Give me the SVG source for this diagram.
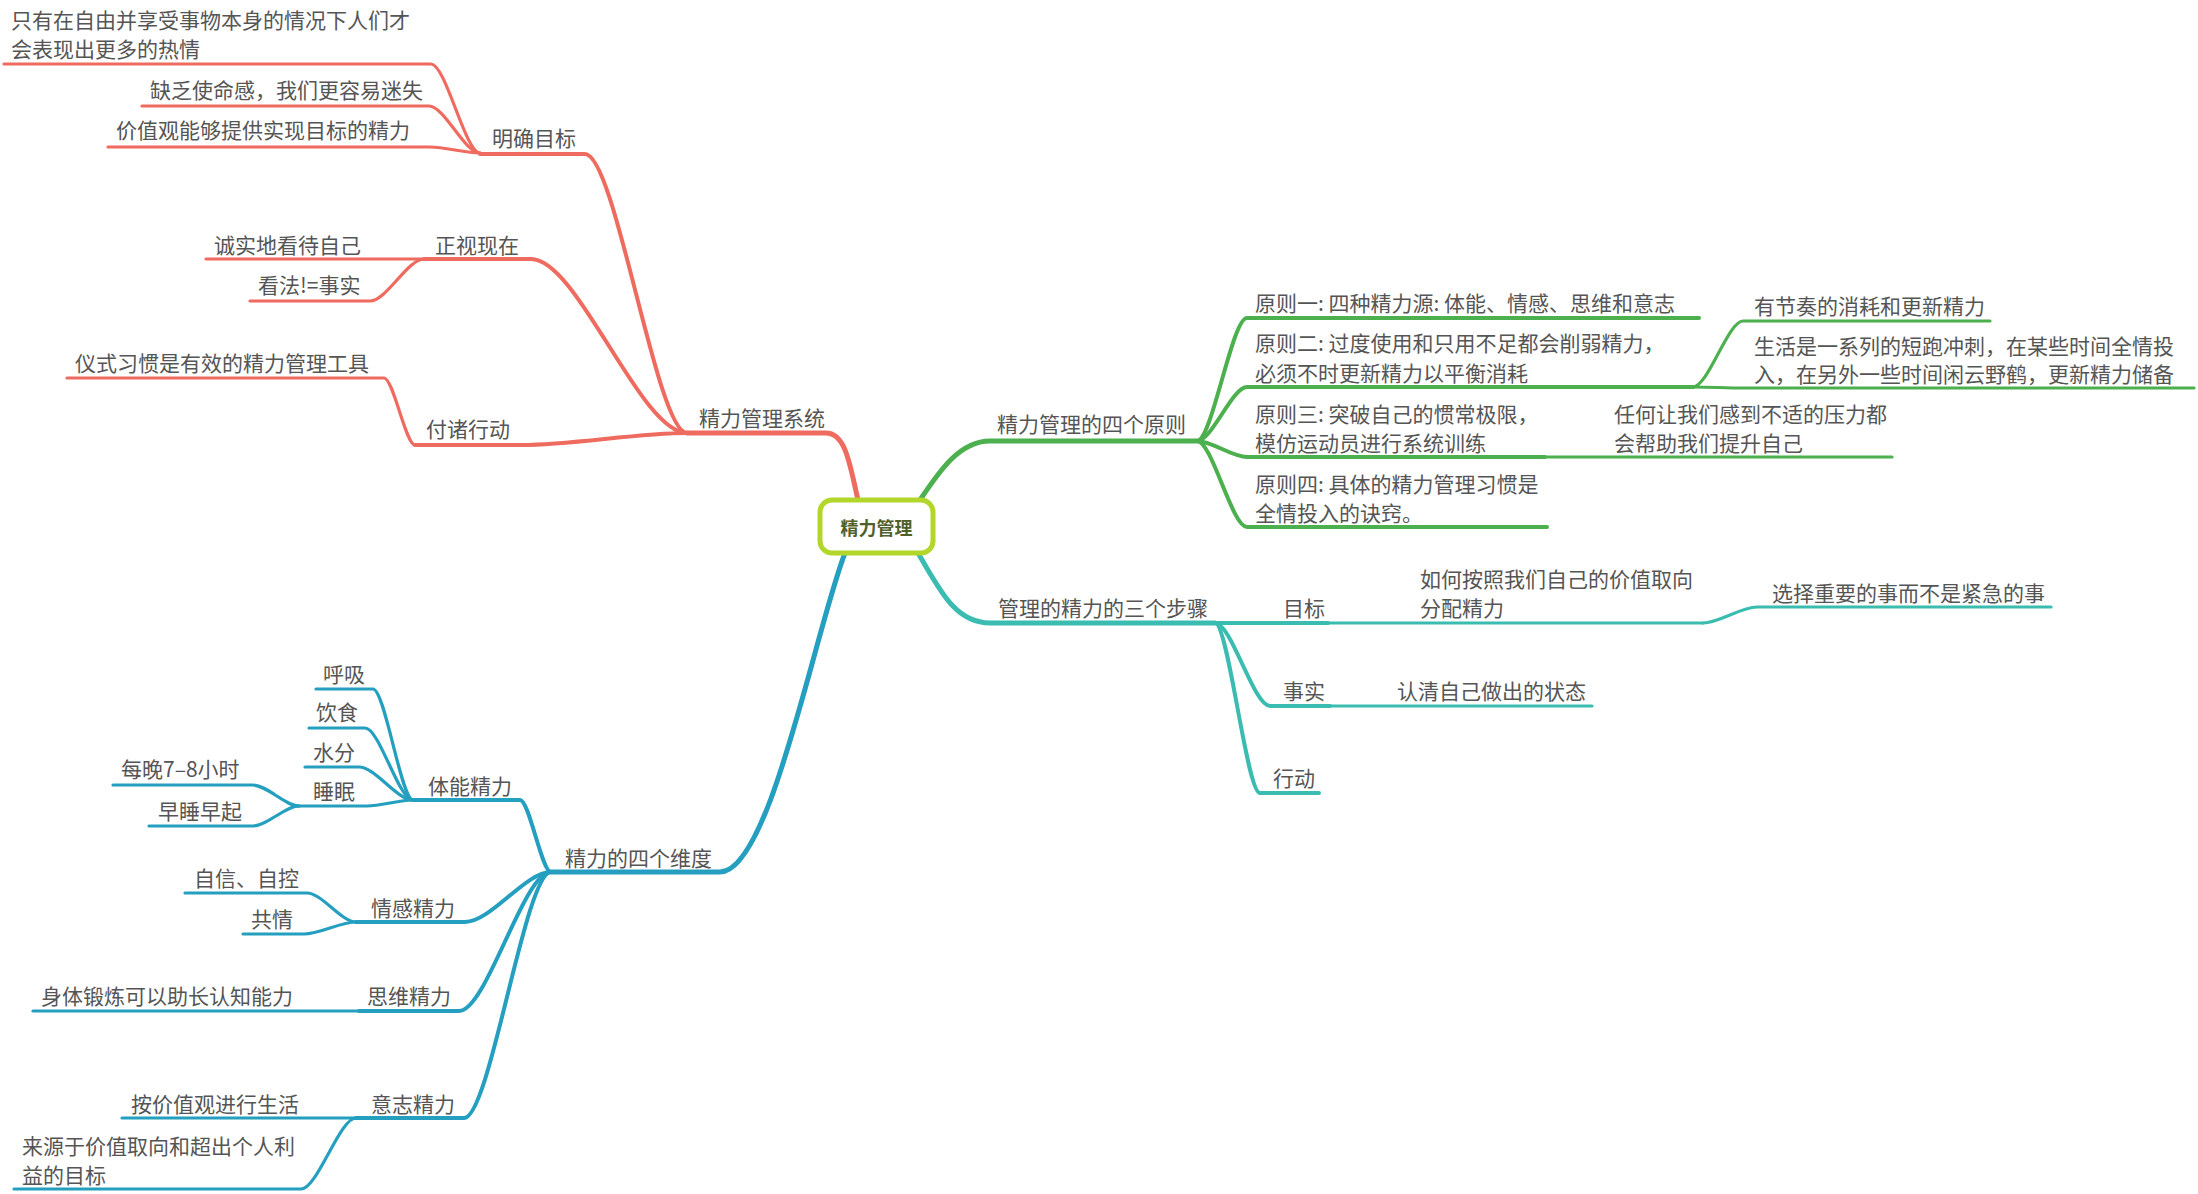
<svg xmlns="http://www.w3.org/2000/svg" width="2198" height="1194" viewBox="0 0 2198 1194">
<style>
text{font-family:"Noto Sans CJK SC","Noto Sans",sans-serif;font-size:21px;fill:#555}
.c path{fill:none;stroke-linecap:round;stroke-linejoin:round}
.r{stroke:#ef6b5f}.g{stroke:#4cb04e}.t{stroke:#3abcb0}.b{stroke:#249fc0}
.w5{stroke-width:5}.w4{stroke-width:4}.w3{stroke-width:3.2}
.root rect{fill:#fff;stroke:#b3d62a;stroke-width:5}
.root text{font-size:18px;font-weight:bold;fill:#4f6129}
</style>
<rect width="2198" height="1194" fill="#fff"/>
<g class="c" id="connectors">
<path class="r w5" d="M858 500 C850 466 846 433 826 433 L687 433"/>
<path class="r w4" d="M687 433 C656.4 433 615.6 154 585 154 L480 154"/>
<path class="r w4" d="M687 433 C640.2 433 577.8 259 531 259 L424 259"/>
<path class="r w4" d="M687 433 C637.5 433 571.5 445 522 445 L415 445"/>
<path class="r w3" d="M480 153 C465.3 153 445.7 64 431 64 L4 64"/>
<path class="r w3" d="M480 153 C464.7 153 444.3 106 429 106 L142 106"/>
<path class="r w3" d="M480 153 C465 153 445 147 430 147 L108 147"/>
<path class="r w3" d="M424 259 L206 259"/>
<path class="r w3" d="M424 259 C407.8 259 386.2 301 370 301 L250 301"/>
<path class="r w3" d="M415 445 C405.7 445 393.3 378 384 378 L67 378"/>
<path class="b w5" d="M845 553 C815 630 770 872 720 872 L551 872"/>
<path class="b w4" d="M551 872 C541.7 872 529.3 800 520 800 L413 800"/>
<path class="b w4" d="M551 872 C525.2 872 490.8 922 465 922 L356 922"/>
<path class="b w4" d="M551 872 C523.4 872 486.6 1011 459 1011 L359 1011"/>
<path class="b w4" d="M551 872 C524.9 872 490.1 1118 464 1118 L356 1118"/>
<path class="b w3" d="M413 800 C401 800 385 689 373 689 L316 689"/>
<path class="b w3" d="M413 800 C398.6 800 379.4 728 365 728 L309 728"/>
<path class="b w3" d="M413 800 C396.8 800 375.2 767 359 767 L305 767"/>
<path class="b w3" d="M413 800 C399.2 800 380.8 806 367 806 L299 806"/>
<path class="b w3" d="M299 806 C285.2 806 266.8 785 253 785 L113 785"/>
<path class="b w3" d="M299 806 C285.2 806 266.8 826 253 826 L149 826"/>
<path class="b w3" d="M356 922 C341.3 922 321.7 893 307 893 L185 893"/>
<path class="b w3" d="M356 922 C340.4 922 319.6 934 304 934 L243 934"/>
<path class="b w3" d="M359 1011 L33 1011"/>
<path class="b w3" d="M356 1118 L122 1118"/>
<path class="b w3" d="M356 1118 C339.5 1118 317.5 1189 301 1189 L14 1189"/>
<path class="g w5" d="M920 500 C940 470 960 441 990 441 L1197 441"/>
<path class="g w4" d="M1197 441 C1212 441 1232 318 1247 318 L1699 318"/>
<path class="g w4" d="M1197 441 C1212 441 1232 387 1247 387 L1693 387"/>
<path class="g w4" d="M1197 441 C1212 441 1232 457 1247 457 L1545 457"/>
<path class="g w4" d="M1197 441 C1212 441 1232 527 1247 527 L1547 527"/>
<path class="g w3" d="M1693 387 C1708 387 1728 321 1743 321 L1990 321"/>
<path class="g w3" d="M1693 387 C1708 387 1728 388 1743 388 L2194 388"/>
<path class="g w3" d="M1545 457 L1892 457"/>
<path class="t w5" d="M918 553 C940 590 955 623 990 623 L1215 623"/>
<path class="t w4" d="M1215 623 L1328 623"/>
<path class="t w4" d="M1215 623 C1231.5 623 1253.5 706 1270 706 L1330 706"/>
<path class="t w4" d="M1215 623 C1228.5 623 1246.5 793 1260 793 L1319 793"/>
<path class="t w3" d="M1328 623 L1703 623"/>
<path class="t w3" d="M1703 623 C1719.2 623 1740.8 607 1757 607 L2051 607"/>
<path class="t w3" d="M1330 706 L1592 706"/>
</g>
<g id="root" class="root">
<rect x="820" y="500" width="113" height="53" rx="12"/>
<text x="876.5" y="534.5" text-anchor="middle">精力管理</text>
</g>
<g id="n-system"><text x="699" y="426">精力管理系统</text></g>
<g id="n-goal"><text x="492" y="145.5">明确目标</text></g>
<g id="n-goal-1"><text x="11" y="28">只有在自由并享受事物本身的情况下人们才</text><text x="11" y="56.5">会表现出更多的热情</text></g>
<g id="n-goal-2"><text x="150" y="98">缺乏使命感，我们更容易迷失</text></g>
<g id="n-goal-3"><text x="116" y="138">价值观能够提供实现目标的精力</text></g>
<g id="n-face"><text x="435" y="253">正视现在</text></g>
<g id="n-face-1"><text x="214" y="253">诚实地看待自己</text></g>
<g id="n-face-2"><text x="258" y="293">看法!=事实</text></g>
<g id="n-act"><text x="426" y="436.5">付诸行动</text></g>
<g id="n-act-1"><text x="75" y="370.5">仪式习惯是有效的精力管理工具</text></g>
<g id="n-dim"><text x="565" y="865.5">精力的四个维度</text></g>
<g id="n-phys"><text x="428" y="793.5">体能精力</text></g>
<g id="n-phys-1"><text x="323" y="681.5">呼吸</text></g>
<g id="n-phys-2"><text x="316" y="720">饮食</text></g>
<g id="n-phys-3"><text x="313" y="759.5">水分</text></g>
<g id="n-phys-4"><text x="313" y="798.5">睡眠</text></g>
<g id="n-sleep-1"><text x="121" y="776.5">每晚7–8小时</text></g>
<g id="n-sleep-2"><text x="158" y="818.5">早睡早起</text></g>
<g id="n-emo"><text x="371" y="915.5">情感精力</text></g>
<g id="n-emo-1"><text x="194" y="885.5">自信、自控</text></g>
<g id="n-emo-2"><text x="251" y="926.5">共情</text></g>
<g id="n-mind"><text x="367" y="1003.5">思维精力</text></g>
<g id="n-mind-1"><text x="41" y="1003.5">身体锻炼可以助长认知能力</text></g>
<g id="n-will"><text x="371" y="1111.5">意志精力</text></g>
<g id="n-will-1"><text x="131" y="1111.5">按价值观进行生活</text></g>
<g id="n-will-2"><text x="22" y="1153.5">来源于价值取向和超出个人利</text><text x="22" y="1182.5">益的目标</text></g>
<g id="n-prin"><text x="997" y="431.5">精力管理的四个原则</text></g>
<g id="n-prin-1"><text x="1255" y="310.5">原则一: 四种精力源: 体能、情感、思维和意志</text></g>
<g id="n-prin-2"><text x="1255" y="350.5">原则二: 过度使用和只用不足都会削弱精力，</text><text x="1255" y="380.5">必须不时更新精力以平衡消耗</text></g>
<g id="n-prin-2-1"><text x="1754" y="313.5">有节奏的消耗和更新精力</text></g>
<g id="n-prin-2-2"><text x="1754" y="353.5">生活是一系列的短跑冲刺，在某些时间全情投</text><text x="1754" y="381.5">入，在另外一些时间闲云野鹤，更新精力储备</text></g>
<g id="n-prin-3"><text x="1255" y="421.5">原则三: 突破自己的惯常极限，</text><text x="1255" y="450.5">模仿运动员进行系统训练</text></g>
<g id="n-prin-3-1"><text x="1614" y="421.5">任何让我们感到不适的压力都</text><text x="1614" y="450.5">会帮助我们提升自己</text></g>
<g id="n-prin-4"><text x="1255" y="491.5">原则四: 具体的精力管理习惯是</text><text x="1255" y="520.5">全情投入的诀窍。</text></g>
<g id="n-steps"><text x="998" y="615.5">管理的精力的三个步骤</text></g>
<g id="n-step-goal"><text x="1283" y="615.5">目标</text></g>
<g id="n-step-goal-1"><text x="1420" y="586.5">如何按照我们自己的价值取向</text><text x="1420" y="615.5">分配精力</text></g>
<g id="n-step-goal-2"><text x="1772" y="600.5">选择重要的事而不是紧急的事</text></g>
<g id="n-step-fact"><text x="1283" y="698.5">事实</text></g>
<g id="n-step-fact-1"><text x="1397" y="698.5">认清自己做出的状态</text></g>
<g id="n-step-act"><text x="1273" y="785.5">行动</text></g>
</svg>
